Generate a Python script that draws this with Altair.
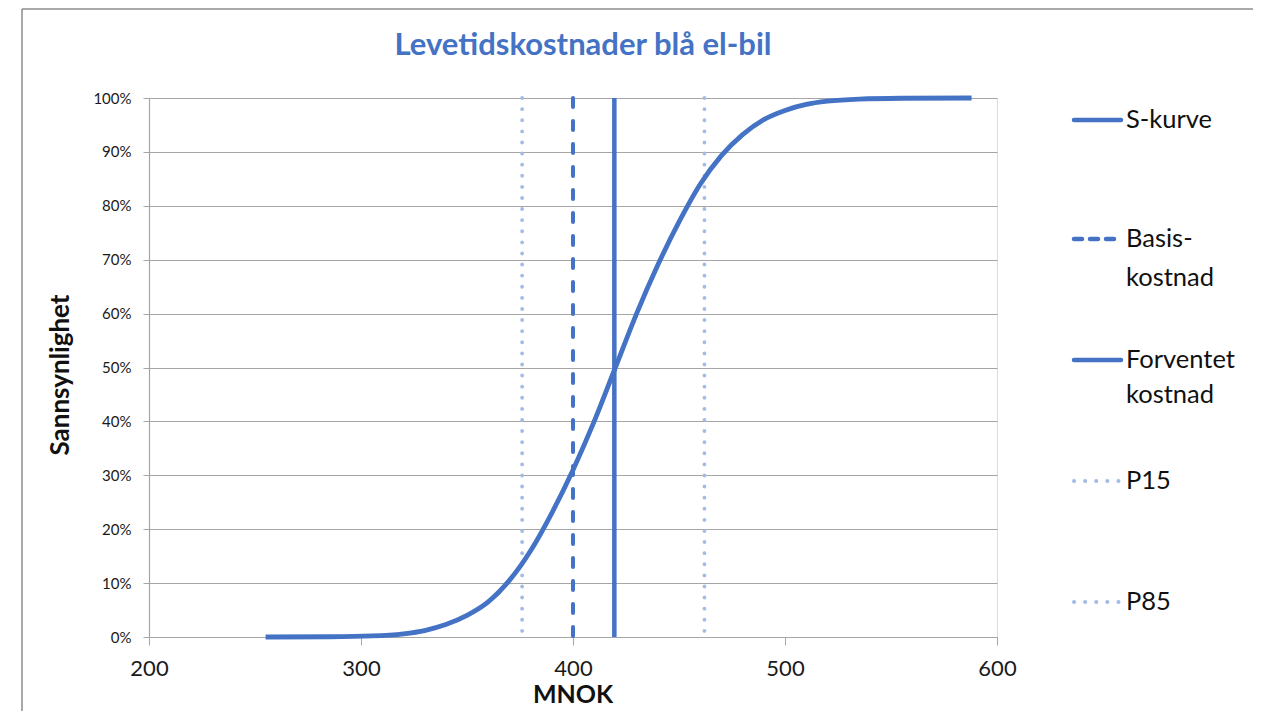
import altair as alt
import pandas as pd

# S-curve (MNOK, cumulative probability)
curve_x = [255, 285, 305, 320, 330, 340, 350, 360, 370, 380, 390, 400, 410, 420, 430, 440, 450, 460, 470, 480, 490, 500, 510, 520, 535, 555, 588]
curve_p = [0.0, 0.0005, 0.002, 0.006, 0.012, 0.023, 0.040, 0.065, 0.105, 0.160, 0.230, 0.310, 0.400, 0.500, 0.600, 0.690, 0.770, 0.840, 0.893, 0.932, 0.960, 0.977, 0.988, 0.994, 0.998, 0.9995, 1.0]

# vertical reference lines
line_names = ["P15", "Basis-kostnad", "Forventet kostnad", "P85"]
line_values = [376, 400, 419.5, 462]

x_ticks = [200, 300, 400, 500, 600]
y_ticks = [0, 0.1, 0.2, 0.3, 0.4, 0.5, 0.6, 0.7, 0.8, 0.9, 1.0]

title_text = "Levetidskostnader blå el-bil"
x_title = "MNOK"
y_title = "Sannsynlighet"

legend_labels = ["S-kurve", "Basis-", "kostnad", "Forventet", "kostnad", "P15", "P85"]

BLUE = "#4472C4"
LIGHT = "#A3BBE6"
GRID = "#A6A6A6"
FONT = "Lato"

W, H = 848, 539

curve_df = pd.DataFrame({"x": curve_x, "p": curve_p})
lines_df = pd.DataFrame({"name": line_names, "x": line_values})

xscale = alt.Scale(domain=[200, 600], nice=False, zero=False)
yscale = alt.Scale(domain=[0, 1], nice=False)

base_x_axis = alt.Axis(values=x_ticks, grid=False, title=None, domainColor=GRID,
                       tickColor=GRID, tickSize=8, labelFontSize=22, labelColor="#1a1a1a",
                       labelPadding=13, labelFont=FONT, domainWidth=1.2, labelFlush=False)
base_y_axis = alt.Axis(values=y_ticks, format=".0%", grid=True, gridColor=GRID, gridWidth=1.2,
                       title=None, domainColor=GRID, tickColor=GRID, tickSize=6,
                       labelFontSize=15, labelColor="#1a1a1a", labelPadding=12, labelFont=FONT,
                       domainWidth=1.2, labelFlush=False)

curve = alt.Chart(curve_df).mark_line(color=BLUE, strokeWidth=4.8, interpolate="monotone").encode(
    x=alt.X("x:Q", scale=xscale, axis=base_x_axis),
    y=alt.Y("p:Q", scale=yscale, axis=base_y_axis),
)

def vline(name, color, dash, width):
    return alt.Chart(lines_df[lines_df["name"] == name]).mark_rule(
        color=color, strokeWidth=width, strokeDash=dash, strokeCap="round" if dash else "butt"
    ).encode(x=alt.X("x:Q", scale=xscale))

p15 = vline("P15", LIGHT, [0.1, 11], 3.8)
p85 = vline("P85", LIGHT, [0.1, 11], 3.8)
basis = vline("Basis-kostnad", BLUE, [9, 14], 4)
forv = vline("Forventet kostnad", BLUE, [], 4.5)

# titles
title = alt.Chart(pd.DataFrame({"t": [title_text]})).mark_text(
    font=FONT, fontSize=31, fontWeight="bold", color=BLUE, align="center", baseline="middle"
).encode(text="t:N", x=alt.value(434), y=alt.value(-52))

xt = alt.Chart(pd.DataFrame({"t": [x_title]})).mark_text(
    font=FONT, fontSize=25, fontWeight="bold", color="#111", align="center", baseline="alphabetic"
).encode(text="t:N", x=alt.value(424), y=alt.value(605))

yt = alt.Chart(pd.DataFrame({"t": [y_title]})).mark_text(
    font=FONT, fontSize=26, fontWeight="bold", color="#111", align="center", baseline="middle", angle=270
).encode(text="t:N", x=alt.value(-88), y=alt.value(277))

# legend (drawn by hand, right of the plot)
leg_text_df = pd.DataFrame({"t": legend_labels, "py": [22, 141, 180, 262, 297, 383, 504]})
leg_text = alt.Chart(leg_text_df).mark_text(
    font=FONT, fontSize=25.5, color="#111", align="left", baseline="middle"
).encode(text="t:N", x=alt.value(977), y=alt.Y("py:Q", scale=None))

def leg_line(py, color, dash, width):
    return alt.Chart(pd.DataFrame({"py": [py]})).mark_rule(
        color=color, strokeWidth=width, strokeDash=dash, strokeCap="round"
    ).encode(x=alt.value(925), x2=alt.value(972), y=alt.Y("py:Q", scale=None))

leg = [
    leg_line(22, BLUE, [], 4.5),
    leg_line(141, BLUE, [8, 8], 4.5),
    leg_line(262, BLUE, [], 4.5),
    leg_line(383, LIGHT, [0.1, 11], 4),
    leg_line(504, LIGHT, [0.1, 11], 4),
]

# chart-area border (top and left edges visible in the picture)
border_top = alt.Chart(pd.DataFrame({"a": [0]})).mark_rule(color="#8C8C8C", strokeWidth=1.5).encode(
    x=alt.value(-127), x2=alt.value(1120), y=alt.value(-89))
border_left = alt.Chart(pd.DataFrame({"a": [0]})).mark_rule(color="#8C8C8C", strokeWidth=1.5).encode(
    x=alt.value(-127), y=alt.value(-89), y2=alt.value(640))

chart = alt.layer(
    p15, p85, basis, forv, curve, title, xt, yt, leg_text, *leg, border_top, border_left
).properties(
    width=W, height=H,
    autosize=alt.AutoSizeParams(type="none"),
    padding={"left": 141, "top": 90, "right": 256, "bottom": 74},
).configure_view(stroke=None).configure(background="white")

chart.save("out.html", embed_options={"renderer": "svg", "actions": False})
